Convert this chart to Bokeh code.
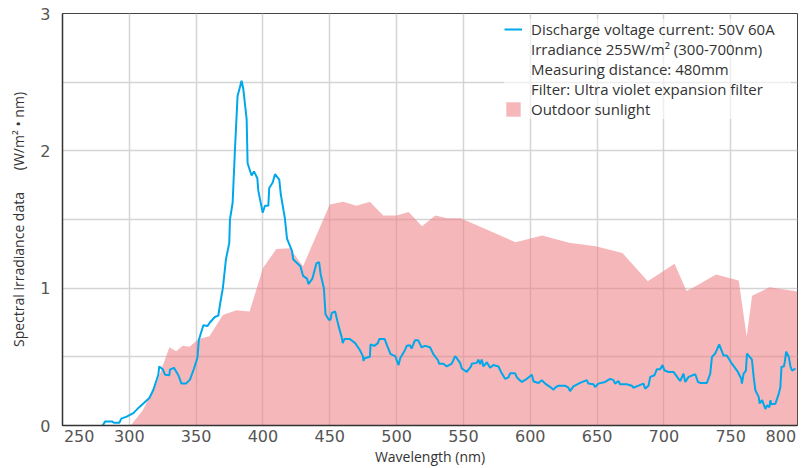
from bokeh.plotting import figure
from bokeh.models import Range1d, FixedTicker, Legend, LegendItem
from bokeh.embed import file_html
from bokeh.resources import INLINE

# ---------------- data ----------------
x_tick_values = [250, 300, 350, 400, 450, 500, 550, 600, 650, 700, 750, 800]
x_tick_labels = ["250", "300", "350", "400", "450", "500", "550", "600", "650", "700", "750", "800"]
y_tick_values = [0, 1, 2, 3]
y_grid_values = [0.5, 1, 1.5, 2, 2.5]

lamp_nm = [
    280, 282, 287, 288.5, 292.5, 294, 298, 303, 307, 310.5, 315, 318, 321.7, 322.4, 325, 326.7,
    330, 330.4, 333.4, 336.7, 339, 342.4, 345.4, 348.4, 350, 351, 352, 355.4, 358.4, 360.3, 364,
    366.6, 368, 370, 372.3, 374.8, 375.3, 377.3, 379, 381, 384, 385.3, 387.8, 388.5, 391.5, 393.3,
    395.8, 396.5, 399.8, 401.5, 404, 404.7, 407.3, 409, 412.2, 413.4, 416.4, 418, 421.8, 422.6,
    428, 430, 433, 434, 437, 440, 442, 443.2, 445.6, 446.8, 449.3, 450.5, 451.5, 454, 456.7, 459,
    459.7, 461, 465, 469, 472.5, 474.8, 475.2, 476, 480, 480.5, 483.3, 486, 487, 491, 493, 495.5,
    499, 500.3, 501.5, 502.7, 506.3, 507.6, 510, 511.2, 513.7, 516.2, 518.7, 521.2, 525, 527.5,
    531, 531.8, 535, 537.5, 541.3, 543.8, 545, 547.5, 548.8, 552.5, 555.7, 556.2, 560, 561.2,
    562.5, 563.7, 565, 567.5, 570, 572.4, 576.2, 578.7, 581.2, 583.7, 585, 588.7, 590, 593.7,
    597.5, 601.2, 602.5, 606.2, 608.7, 611.2, 615, 617.5, 618.6, 621.2, 626, 628.6, 629.8, 632.3,
    637.3, 642.3, 643.5, 647.3, 648.5, 651, 656, 659.8, 662.3, 663.5, 666, 667.2, 672.2, 676,
    677.2, 681, 684.7, 686, 688.5, 689.8, 693, 694.8, 697.3, 699, 700.5, 703.5, 707.2, 711, 712.2,
    714.7, 716, 718.5, 723.5, 725.5, 727.2, 732.2, 734.7, 736, 738.4, 741.4, 744.6, 747.1, 750.9,
    755.4, 757.9, 758.4, 759.7, 761.4, 762.2, 765.9, 767.2, 768.5, 771, 771.7, 773.5, 776, 777.2,
    779, 779.7, 780.5, 783.5, 786, 787.2, 788, 789.8, 790.5, 791.5, 793.5, 794.8, 796, 798.5,
]
lamp_val = [
    0.00, 0.03, 0.03, 0.02, 0.02, 0.05, 0.065, 0.09, 0.13, 0.16, 0.20, 0.26, 0.37, 0.43, 0.41, 0.37,
    0.366, 0.407, 0.42, 0.366, 0.305, 0.305, 0.334, 0.415, 0.463, 0.495, 0.622, 0.73, 0.724, 0.75, 0.79,
    0.80, 0.89, 1.00, 1.21, 1.33, 1.50, 1.62, 2.00, 2.40, 2.51, 2.45, 2.23, 1.91, 1.82, 1.85,
    1.80, 1.71, 1.55, 1.60, 1.60, 1.73, 1.77, 1.83, 1.79, 1.68, 1.51, 1.36, 1.27, 1.21,
    1.16, 1.09, 1.07, 1.03, 1.07, 1.18, 1.19, 1.10, 1.00, 0.81, 0.77, 0.77, 0.82, 0.83, 0.72, 0.64,
    0.60, 0.63, 0.63, 0.60, 0.55, 0.505, 0.47, 0.49, 0.50, 0.59, 0.58, 0.60, 0.63, 0.63, 0.58, 0.52,
    0.505, 0.47, 0.44, 0.49, 0.55, 0.58, 0.585, 0.56, 0.62, 0.62, 0.57, 0.58, 0.57, 0.52,
    0.475, 0.45, 0.45, 0.43, 0.45, 0.505, 0.49, 0.456, 0.415, 0.39, 0.43, 0.45, 0.456, 0.48,
    0.446, 0.48, 0.43, 0.46, 0.42, 0.44, 0.43, 0.38, 0.34, 0.35, 0.38, 0.38, 0.35, 0.317,
    0.34, 0.37, 0.32, 0.31, 0.33, 0.305, 0.28, 0.26, 0.275, 0.29, 0.29, 0.275, 0.25, 0.285,
    0.31, 0.33, 0.305, 0.30, 0.28, 0.305, 0.317, 0.34, 0.33, 0.305, 0.324, 0.30, 0.30, 0.29,
    0.275, 0.29, 0.305, 0.268, 0.29, 0.354, 0.366, 0.41, 0.41, 0.44, 0.40, 0.39, 0.39, 0.34, 0.324,
    0.378, 0.317, 0.354, 0.373, 0.317, 0.31, 0.31, 0.378, 0.50, 0.524, 0.59, 0.51, 0.51, 0.45,
    0.39, 0.34, 0.305, 0.378, 0.40, 0.524, 0.48, 0.354, 0.256, 0.207, 0.16, 0.185, 0.12, 0.146,
    0.134, 0.183, 0.154, 0.159, 0.232, 0.28, 0.427, 0.43, 0.463, 0.537, 0.50, 0.427, 0.40, 0.415,
]

sun_nm = [
    301, 310, 320, 330, 335, 340, 345, 352, 360, 370, 380, 390, 400, 410, 420, 430, 450, 460, 470,
    480, 490, 500, 509, 519, 529, 538, 548, 589, 609, 629, 649, 669, 688, 708, 717, 723, 739, 756,
    762, 766, 779, 800,
]
sun_val = [
    0.00, 0.11, 0.30, 0.57, 0.54, 0.58, 0.573, 0.63, 0.65, 0.805, 0.84, 0.83, 1.146, 1.285, 1.29,
    1.16, 1.61, 1.63, 1.60, 1.63, 1.53, 1.53, 1.555, 1.45, 1.53, 1.51, 1.51, 1.334, 1.383, 1.33,
    1.305, 1.256, 1.05, 1.178, 0.98, 1.01, 1.10, 1.056, 0.646, 0.944, 1.007, 0.975,
]

lamp_labels = [
    "Discharge voltage current: 50V 60A",
    "Irradiance 255W/m\u00b2 (300-700nm)",
    "Measuring distance: 480mm",
    "Filter: Ultra violet expansion filter",
]
sun_label = "Outdoor sunlight"
x_title = "Wavelength (nm)"
y_title = "Spectral irradiance data" + "\u00a0" * 6 + "(W/m\u00b2 \u2022 nm)"

# ---------------- figure ----------------
TEXT_FONT = "Open Sans"
TICK_FONT = "DejaVu Sans"

p = figure(
    width=805, height=468,
    x_range=Range1d(x_tick_values[0], x_tick_values[-1]),
    y_range=Range1d(y_tick_values[0], y_tick_values[-1]),
    output_backend="svg", toolbar_location=None,
    min_border_left=62, min_border_right=8, min_border_top=13, min_border_bottom=43,
)

sun_r = p.varea(x=sun_nm, y1=[0] * len(sun_nm), y2=sun_val,
                fill_color="#ef7c84", fill_alpha=0.55)
lamp_r = p.line(x=lamp_nm, y=lamp_val, line_color="#00a8ea", line_width=2)
dummy_r = p.line(x=[], y=[], line_alpha=0)

# grid
p.xgrid.ticker = FixedTicker(ticks=x_tick_values[1:-1])
p.ygrid.ticker = FixedTicker(ticks=y_grid_values)
p.xgrid.grid_line_color = "#d4d4d4"
p.ygrid.grid_line_color = "#d4d4d4"
p.xgrid.grid_line_width = 1.5
p.ygrid.grid_line_width = 1.5

# x axis: edge labels nudged inside the frame
shift = 12.5
label_pos = list(x_tick_values)
label_pos[0] = x_tick_values[0] + shift
label_pos[-1] = x_tick_values[-1] - shift
p.xaxis.ticker = FixedTicker(ticks=label_pos)
p.xaxis.major_label_overrides = {pos: lab for pos, lab in zip(label_pos, x_tick_labels)}
p.yaxis.ticker = FixedTicker(ticks=y_tick_values)

for ax in (p.xaxis[0], p.yaxis[0]):
    ax.major_tick_line_color = None
    ax.minor_tick_line_color = None
    ax.major_tick_out = 0
    ax.major_tick_in = 0
    ax.minor_tick_out = 0
    ax.minor_tick_in = 0
    ax.axis_line_color = "#333333"
    ax.axis_line_width = 1.5
    ax.major_label_text_font = TICK_FONT
    ax.major_label_text_font_size = "16px"
    ax.major_label_text_color = "#555555"
    ax.axis_label_text_font = TEXT_FONT
    ax.axis_label_text_font_size = "14px"
    ax.axis_label_text_font_style = "normal"
    ax.axis_label_text_color = "#333333"

p.xaxis.axis_label = x_title
p.yaxis.axis_label = y_title
p.xaxis.major_label_standoff = 4
p.xaxis.axis_label_standoff = 2
p.yaxis.major_label_standoff = 12
p.yaxis.axis_label_standoff = 9

p.outline_line_color = "#444444"
p.outline_line_width = 1
p.background_fill_color = "white"
p.border_fill_color = "white"

items = [LegendItem(label=lamp_labels[0], renderers=[lamp_r])]
for lab in lamp_labels[1:]:
    items.append(LegendItem(label=lab, renderers=[dummy_r]))
items.append(LegendItem(label=sun_label, renderers=[sun_r]))

legend = Legend(
    items=items, location="top_right", margin=6, padding=6, spacing=0,
    glyph_width=18, glyph_height=18, label_height=20, label_standoff=9, label_width=260,
    label_text_font=TEXT_FONT, label_text_font_size="15px", label_text_color="#333333",
    background_fill_color="white", background_fill_alpha=0.6, border_line_color=None,
)
p.add_layout(legend)

open("out.html", "w").write(file_html(p, INLINE))
